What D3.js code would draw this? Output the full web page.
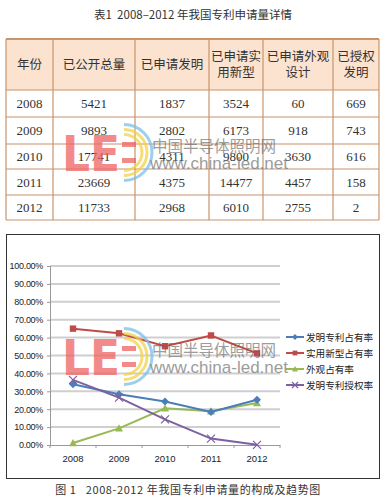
<!DOCTYPE html>
<html><head><meta charset="utf-8">
<script src="https://cdn.jsdelivr.net/npm/d3@7"></script>
<style>
html,body{margin:0;padding:0;background:#fff;}
svg{display:block;}
text{white-space:pre;}
</style></head>
<body>
<script>
// ---------- data ----------
const tableTitle = "表1  2008–2012 年我国专利申请量详情";
const headers = [["年份"], ["已公开总量"], ["已申请发明"], ["已申请实", "用新型"], ["已申请外观", "设计"], ["已授权", "发明"]];
const years = ["2008", "2009", "2010", "2011", "2012"];
const published = [5421, 9893, 17741, 23669, 11733];
const inventionApps = [1837, 2802, 4311, 4375, 2968];
const utilityApps = [3524, 6173, 9800, 14477, 6010];
const designApps = [60, 918, 3630, 4457, 2755];
const grantedInventions = [669, 743, 616, 158, 2];

const seriesNames = ["发明专利占有率", "实用新型占有率", "外观占有率", "发明专利授权率"];
const inventionShare = [33.9, 28.3, 24.3, 18.5, 25.3];
const utilityShare = [65.0, 62.4, 55.2, 61.2, 51.2];
const designShare = [1.1, 9.3, 20.5, 18.8, 23.5];
const grantRate = [36.4, 26.5, 14.3, 3.6, 0.1];
const yTicks = [0, 10, 20, 30, 40, 50, 60, 70, 80, 90, 100];
const chartCaption = "图 1   2008-2012 年我国专利申请量的构成及趋势图";

// ---------- setup ----------
const W = 386, H = 501;
const svg = d3.select("body").append("svg").attr("width", W).attr("height", H);
const cjk = "'Noto Sans CJK SC', 'Noto Sans', sans-serif";
const serif = "'Liberation Serif', 'Noto Sans CJK SC', serif";

svg.append("text").attr("x", 193).attr("y", 19).attr("text-anchor", "middle")
  .attr("font-family", cjk).attr("font-size", 11.5).attr("fill", "#333")
  .text(tableTitle);

// ---------- table ----------
const colEdges = [6, 53, 135, 209, 263, 333, 379];
const rowEdges = [39, 90, 117, 144, 169, 195, 220];
const border = "#c8946c";
const tg = svg.append("g");
tg.append("rect").attr("x", colEdges[0]).attr("y", rowEdges[0])
  .attr("width", colEdges[6] - colEdges[0]).attr("height", rowEdges[1] - rowEdges[0])
  .attr("fill", "#fbe3d0");
colEdges.forEach(x => tg.append("line").attr("x1", x).attr("x2", x)
  .attr("y1", rowEdges[0]).attr("y2", rowEdges[6]).attr("stroke", border).attr("stroke-width", 1.2));
rowEdges.forEach((y, i) => tg.append("line").attr("x1", colEdges[0]).attr("x2", colEdges[6])
  .attr("y1", y).attr("y2", y).attr("stroke", border).attr("stroke-width", i === 0 ? 2 : 1.2));
headers.forEach((h, c) => {
  const cx = (colEdges[c] + colEdges[c + 1]) / 2;
  const cy = (rowEdges[0] + rowEdges[1]) / 2;
  h.forEach((line, k) => {
    tg.append("text").attr("x", cx).attr("y", cy + (k - (h.length - 1) / 2) * 16 + 4.5)
      .attr("text-anchor", "middle").attr("font-family", cjk).attr("font-size", 12.5)
      .attr("fill", "#333").text(line);
  });
});
const cols = [years, published, inventionApps, utilityApps, designApps, grantedInventions];
years.forEach((yr, r) => {
  const cy = (rowEdges[r + 1] + rowEdges[r + 2]) / 2;
  cols.forEach((col, c) => {
    tg.append("text").attr("x", (colEdges[c] + colEdges[c + 1]) / 2).attr("y", cy + 4.5)
      .attr("text-anchor", "middle").attr("font-family", serif).attr("font-size", 13)
      .attr("fill", "#333").text(col[r]);
  });
});

// ---------- chart ----------
svg.append("rect").attr("x", 6.5).attr("y", 234.5).attr("width", 373).attr("height", 244)
  .attr("fill", "#fff").attr("stroke", "#333").attr("stroke-width", 1);

const x = d3.scaleBand().domain(years).range([50, 280]).padding(0);
const y = d3.scaleLinear().domain([0, 100]).range([445, 266]);
const cx = d => x(d) + x.bandwidth() / 2;

const grid = svg.append("g");
yTicks.filter(t => t > 0).forEach(t => grid.append("line")
  .attr("x1", 50).attr("x2", 280).attr("y1", y(t)).attr("y2", y(t))
  .attr("stroke", "#cfcfcf").attr("stroke-width", 2));

const yAxis = svg.append("g").attr("transform", "translate(50,0)")
  .call(d3.axisLeft(y).tickValues(yTicks).tickSize(3).tickPadding(4)
    .tickFormat(d => d.toFixed(2) + "%"));
yAxis.select(".domain").attr("stroke", "#999");
yAxis.selectAll(".tick line").attr("stroke", "#999");
yAxis.selectAll("text").attr("font-family", "'Liberation Sans', sans-serif")
  .attr("font-size", 9).attr("letter-spacing", -0.3).attr("fill", "#222");

const xAxis = svg.append("g").attr("transform", "translate(0,445)")
  .call(d3.axisBottom(x).tickSize(0).tickPadding(10));
xAxis.select(".domain").attr("stroke", "#999");
xAxis.selectAll("text").attr("font-family", "'Liberation Sans', sans-serif")
  .attr("font-size", 9.5).attr("fill", "#222");
[...years.map(d => x(d)), 280].forEach(xx => xAxis.append("line")
  .attr("x1", xx).attr("x2", xx).attr("y1", 0).attr("y2", 3).attr("stroke", "#999"));

const series = [
  { name: seriesNames[0], values: inventionShare, color: "#4a7ebb", marker: "diamond" },
  { name: seriesNames[1], values: utilityShare, color: "#be4b48", marker: "square" },
  { name: seriesNames[2], values: designShare, color: "#98b954", marker: "triangle" },
  { name: seriesNames[3], values: grantRate, color: "#7d60a0", marker: "x" }
];
const line = d3.line().x((d, i) => cx(years[i])).y(d => y(d));

function marker(g, type, px, py, color, s) {
  if (type === "diamond") {
    g.append("path").attr("d", `M${px},${py - s}L${px + s},${py}L${px},${py + s}L${px - s},${py}Z`).attr("fill", color);
  } else if (type === "square") {
    g.append("rect").attr("x", px - s * 0.8).attr("y", py - s * 0.8).attr("width", s * 1.6).attr("height", s * 1.6).attr("fill", color);
  } else if (type === "triangle") {
    g.append("path").attr("d", `M${px},${py - s}L${px + s},${py + s * 0.8}L${px - s},${py + s * 0.8}Z`).attr("fill", color);
  } else {
    g.append("path").attr("d", `M${px - s},${py - s}L${px + s},${py + s}M${px - s},${py + s}L${px + s},${py - s}`)
      .attr("stroke", color).attr("stroke-width", 1.2);
  }
}

// draw order: utility, design, invention, grant
[1, 2, 0, 3].forEach(k => {
  const s = series[k];
  const g = svg.append("g");
  g.append("path").attr("d", line(s.values)).attr("fill", "none")
    .attr("stroke", s.color).attr("stroke-width", 2);
  s.values.forEach((v, i) => marker(g, s.marker, cx(years[i]), y(v), s.color, 4));
});

// legend
const legY = [337, 353, 369, 385];
series.forEach((s, i) => {
  const g = svg.append("g");
  g.append("line").attr("x1", 286).attr("x2", 304).attr("y1", legY[i]).attr("y2", legY[i])
    .attr("stroke", s.color).attr("stroke-width", 2);
  marker(g, s.marker, 295, legY[i], s.color, 3);
  g.append("text").attr("x", 306).attr("y", legY[i] + 3.5).attr("font-family", cjk)
    .attr("font-size", 9.6).attr("fill", "#222").text(s.name);
});

svg.append("text").attr("x", 188).attr("y", 494).attr("text-anchor", "middle")
  .attr("font-family", cjk).attr("font-size", 11).attr("letter-spacing", 0.6).attr("fill", "#333")
  .text(chartCaption);

// ---------- watermark ----------
function watermark(ox, oy) {
  const g = svg.append("g").attr("transform", `translate(${ox},${oy})`).attr("opacity", 0.75);
  g.append("text").attr("x", 0).attr("y", 37).attr("font-family", "'DejaVu Sans', sans-serif")
    .attr("font-weight", "bold").attr("font-size", 50).attr("textLength", 58)
    .attr("lengthAdjust", "spacingAndGlyphs").attr("fill", "#f06464").text("LE");
  [[23, "#f3d24a"], [28, "#7cc0ea"], [18, "#f3d24a"]].forEach(([r, c]) => {
    g.append("path").attr("d", `M62,${18.5 - r}A${r},${r} 0 0 1 62,${18.5 + r}`)
      .attr("fill", "none").attr("stroke", c).attr("stroke-width", 3);
  });
  g.append("rect").attr("x", 60).attr("y", 8).attr("width", 14).attr("height", 5).attr("fill", "#f06464");
  g.append("rect").attr("x", 60).attr("y", 24).attr("width", 14).attr("height", 5).attr("fill", "#f06464");
  g.append("text").attr("x", 90).attr("y", 18).attr("font-family", cjk).attr("font-size", 15.5)
    .attr("fill", "#666").attr("opacity", 0.85).text("中国半导体照明网");
  g.append("text").attr("x", 88).attr("y", 35).attr("font-family", "'Liberation Sans', sans-serif")
    .attr("font-size", 17).attr("fill", "#666").attr("opacity", 0.85).text("www.china-led.net");
}
watermark(62, 134);
watermark(62, 338);
</script>
</body></html>
